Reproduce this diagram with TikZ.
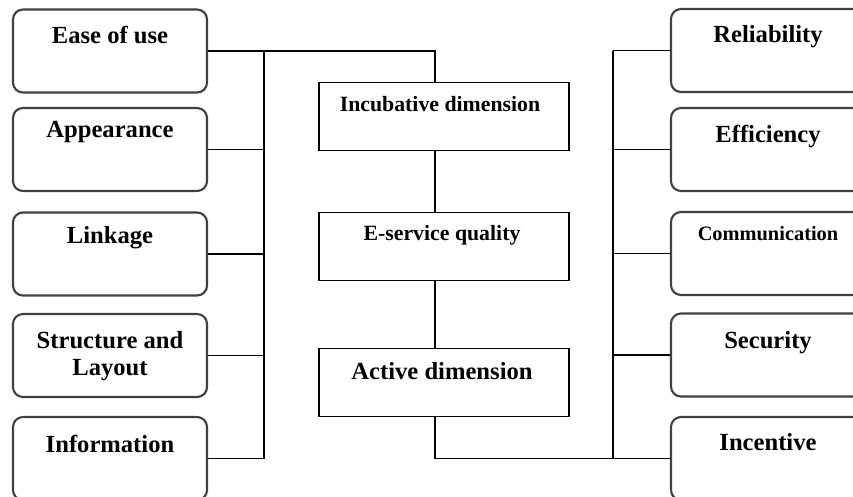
\documentclass[tikz,border=0pt]{standalone}
\usepackage{fontspec}
\setmainfont{Liberation Serif}

\begin{document}
\begin{tikzpicture}[
    x=0.025cm, y=-0.025cm,
    dimbox/.style={rectangle, rounded corners=0.25cm, draw=black!75, line width=1.5pt, minimum width=4.85cm, minimum height=2.075cm},
    corebox/.style={rectangle, draw=black, line width=1.2pt, minimum width=6.25cm, minimum height=1.7cm},
    tag/.style={anchor=base, font=\fontsize{17.5}{19}\selectfont\bfseries, align=center, inner sep=0pt},
    link/.style={black, line width=1.2pt}
]

\useasboundingbox (0,0) rectangle (853,496);
\clip (0,0) rectangle (853,496);

% Left dimension boxes
\node[dimbox] (ease) at (110,51) {};
\node[dimbox] (app) at (110,149.5) {};
\node[dimbox] (linkage) at (110,254) {};
\node[dimbox] (struct) at (110,355.5) {};
\node[dimbox] (info) at (110,458.5) {};

\node[tag] (easeT) at ([yshift=-0.87cm]ease.north) {Ease of use};
\node[tag] (appT) at ([yshift=-0.77cm]app.north) {Appearance};
\node[tag] (linkageT) at ([yshift=-0.79cm]linkage.north) {Linkage};
\node[tag, anchor=north] (structT) at ([yshift=-0.45cm]struct.north) {Structure and\\Layout};
\node[tag] (infoT) at ([yshift=-0.91cm]info.north) {Information};

% Middle boxes
\node[corebox] (incub) at (444,116.5) {};
\node[corebox] (esq) at (444,246.5) {};
\node[corebox] (act) at (444,382.5) {};

\node[tag, font=\fontsize{15.5}{18}\selectfont\bfseries] (incubT) at ([xshift=-0.1cm, yshift=-0.75cm]incub.north) {Incubative dimension};
\node[tag, font=\fontsize{15.5}{18}\selectfont\bfseries] (esqT) at ([xshift=-0.05cm, yshift=-0.73cm]esq.north) {E-service quality};
\node[tag] (actT) at ([xshift=-0.05cm, yshift=-0.8cm]act.north) {Active dimension};

% Right dimension boxes
\node[dimbox] (rel) at (768,50.5) {};
\node[dimbox] (eff) at (768,149.5) {};
\node[dimbox] (comm) at (768,253.5) {};
\node[dimbox] (sec) at (768,355) {};
\node[dimbox] (inc) at (768,458.5) {};

\node[tag] (relT) at ([yshift=-0.87cm]rel.north) {Reliability};
\node[tag] (effT) at ([yshift=-0.9cm]eff.north) {Efficiency};
\node[tag, font=\fontsize{14.5}{17}\selectfont\bfseries] (commT) at ([yshift=-0.73cm]comm.north) {Communication};
\node[tag] (secT) at ([yshift=-0.9cm]sec.north) {Security};
\node[tag] (incT) at ([yshift=-0.87cm]inc.north) {Incentive};

% Bus lines
\coordinate (lbus) at (264,0);
\coordinate (rbus) at (613,0);
\coordinate (spine) at (435,0);

% Left side to incubative dimension
\draw[link] (ease.east) -| (spine |- incub.north);
\draw[link] (lbus |- ease.east) -- (lbus |- info.east);
\draw[link] (app.east) -- (lbus |- app.east);
\draw[link] (linkage.east) -- (lbus |- linkage.east);
\draw[link] (struct.east) -- (lbus |- struct.east);
\draw[link] (info.east) -- (lbus |- info.east);

% Middle spine
\draw[link] (spine |- incub.south) -- (spine |- esq.north);
\draw[link] (spine |- esq.south) -- (spine |- act.north);
\draw[link] (spine |- act.south) |- (inc.west);

% Right side
\draw[link] (rbus |- rel.west) -- (rbus |- inc.west);
\draw[link] (rel.west) -- (rbus |- rel.west);
\draw[link] (eff.west) -- (rbus |- eff.west);
\draw[link] (comm.west) -- (rbus |- comm.west);
\draw[link] (sec.west) -- (rbus |- sec.west);

\end{tikzpicture}
\end{document}
